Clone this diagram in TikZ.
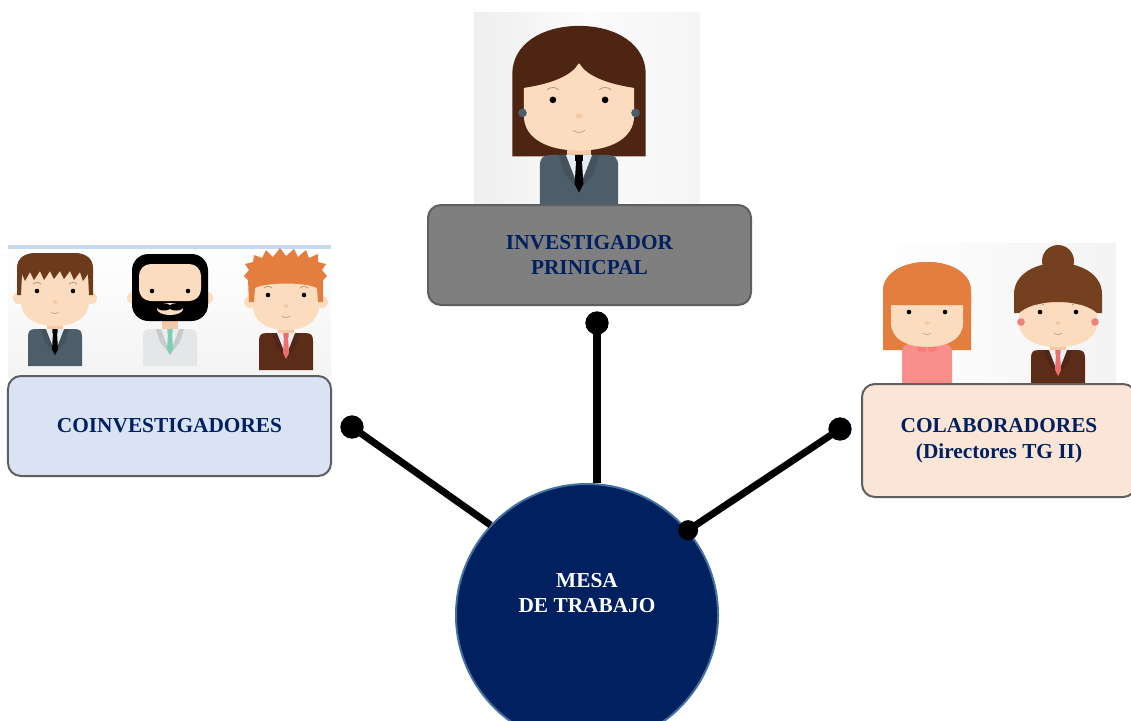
\documentclass[tikz,border=0pt]{standalone}
\usepackage{fontspec}
\setmainfont{Liberation Serif}

\definecolor{skin}{HTML}{FCDCBF}
\definecolor{skinshade}{HTML}{F3C9A8}
\definecolor{navy}{HTML}{002060}
\definecolor{rimblue}{HTML}{41719C}
\definecolor{boxline}{HTML}{5F5F5F}
\definecolor{invgray}{HTML}{7F7F7F}
\definecolor{coinvblue}{HTML}{DAE3F3}
\definecolor{colabpeach}{HTML}{FBE5D6}
\definecolor{stripblue}{HTML}{C6D9F1}
\definecolor{slatesuit}{HTML}{4D5D69}
\definecolor{brownsuit}{HTML}{5B2C17}
\definecolor{shirtwhite}{HTML}{E8EDF1}
\definecolor{shirtgray}{HTML}{E4E6E8}
\definecolor{tiepink}{HTML}{EE6E6E}
\definecolor{tieteal}{HTML}{7FCDB3}
\definecolor{hairbrown}{HTML}{6E3A1C}
\definecolor{hairdark}{HTML}{4E2412}
\definecolor{hairorange}{HTML}{E47E3E}
\definecolor{hairbun}{HTML}{74401F}
\definecolor{blousepink}{HTML}{F98F8B}
\definecolor{earpink}{HTML}{F2807A}

\newcommand\diagfont{\fontsize{18.2}{22}\selectfont\bfseries}

\tikzset{
  box/.style={draw=boxline, line width=1.7pt, rounded corners=11pt, text=navy,
              align=center, font=\diagfont},
  ball/.style={circle, fill=black, inner sep=0pt, minimum size=0.7cm},
  link/.style={line width=6pt},
  brow/.style={draw=skinshade!70!black, line width=0.6pt},
  pics/ears/.style={code={\fill[skin] (-#1,0) circle (6) (#1,0) circle (6);}},
  pics/face/.style={code={
    \fill[skin] (-#1,-32) -- (#1,-32) -- (#1,4) .. controls (#1,20) and ({0.55*#1},28) .. (0,28)
      .. controls ({-0.55*#1},28) and (-#1,20) .. (-#1,4) -- cycle;
    \fill (-18,-7) circle (2.3) (18,-7) circle (2.3);
    \draw[brow] (-22,-14) .. controls (-20,-16) and (-16,-16) .. (-14,-14)
                (14,-14) .. controls (16,-16) and (20,-16) .. (22,-14);
    \fill[skinshade] (0,4) ellipse (2.6 and 1.8);
    \draw[skinshade!80!black, line width=0.6pt] (-4,14) .. controls (-2,16) and (2,16) .. (4,14);
  }},
  pics/suit/.style 2 args={code={
    \fill[skinshade] (-8,20) rectangle (8,34);
    \fill[#1] (-27,68) -- (-27,39) .. controls (-27,33) and (-25,31) .. (-19,31) -- (19,31)
      .. controls (25,31) and (27,33) .. (27,39) -- (27,68) -- cycle;
    \fill[#1!88!black] (-14,31) -- (-9,31) -- (0,56) -- (-10,44) -- cycle
                       (14,31) -- (9,31) -- (0,56) -- (10,44) -- cycle;
    \fill[shirtwhite] (-9,31) -- (9,31) -- (0,54) -- cycle;
    \fill[#2] (-2.6,31) rectangle (2.6,35) (-2,35) -- (2,35) -- (3,51) -- (0,57) -- (-3,51) -- cycle;
  }},
}

\begin{document}
\begin{tikzpicture}[x={(0.03cm,0)}, y={(0,-0.03cm)}]
\clip (0,0) rectangle (1131,720);
\fill[white] (0,0) rectangle (1131,720);

% photo backgrounds
\fill[left color=gray!13, right color=gray!8, middle color=gray!3] (474,12) rectangle (700,205);
\fill[top color=white, bottom color=gray!9] (8,245) rectangle (331,376);
\fill[stripblue] (8,245) rectangle (331,249);
\fill[left color=white, right color=gray!9] (866,243) rectangle (1116,385);

% principal investigator
\begin{scope}[shift={(579,110)}, scale=1.45]
  \fill[hairdark] (-46,32) -- (-46,-25) .. controls (-46,-45) and (-26,-58) .. (0,-58)
    .. controls (26,-58) and (46,-45) .. (46,-25) -- (46,32) -- cycle;
  \pic[transform shape] {suit={slatesuit}{black}};
  \pic[transform shape] {face=38};
  \fill[hairdark] (-40,-15) .. controls (-25,-17) and (-5,-22) .. (0,-33)
    .. controls (5,-22) and (25,-17) .. (40,-15) -- (40,-35)
    .. controls (30,-50) and (-30,-50) .. (-40,-35) -- cycle;
  \fill[slatesuit] (-39,2) circle (3) (39,2) circle (3);
\end{scope}

% coinvestigators
\begin{scope}[shift={(55,298)}]
  \pic {suit={slatesuit}{black}};
  \pic {ears=36};
  \pic {face=34};
  \fill[hairbrown] (-38,-3) -- (-38,-30) .. controls (-38,-40) and (-30,-45) .. (-20,-45) -- (20,-45)
    .. controls (30,-45) and (38,-40) .. (38,-30) -- (38,-3) -- (34,-3) -- (33,-24) -- (28,-17)
    -- (25,-26) -- (19,-18) -- (15,-27) -- (9,-19) -- (5,-27) -- (-1,-19) -- (-5,-27) -- (-11,-18)
    -- (-15,-27) -- (-21,-18) -- (-25,-26) -- (-30,-17) -- (-33,-24) -- (-34,-3) -- cycle;
\end{scope}
\begin{scope}[shift={(170,298)}]
  \pic {suit={shirtgray}{tieteal}};
  \pic {ears=37};
  \fill[black, rounded corners=14pt] (-38,-44) rectangle (38,23);
  \fill[skin, rounded corners=10pt] (-31,-34) rectangle (31,3);
  \fill[skin] (0,11) ellipse (13 and 6);
  \fill (-6,9) ellipse (7 and 3.5) (6,9) ellipse (7 and 3.5);
  \fill (-18,-7) circle (2.3) (18,-7) circle (2.3);
\end{scope}
\begin{scope}[shift={(286,302)}]
  \pic {suit={brownsuit}{tiepink}};
  \pic {ears=36};
  \pic {face=33};
  \fill[hairorange] (-37,0) -- (-38,-22) -- (-42,-26) -- (-37,-32) -- (-41,-38) -- (-33,-40)
    -- (-32,-47) -- (-24,-44) -- (-20,-52) -- (-13,-45) -- (-6,-54) -- (0,-46) -- (8,-53)
    -- (12,-45) -- (20,-52) -- (23,-44) -- (32,-48) -- (32,-40) -- (40,-38) -- (36,-32)
    -- (41,-26) -- (37,-22) -- (37,0) -- (32,0) -- (31,-14) .. controls (20,-20) and (-20,-20) .. (-31,-14)
    -- (-32,0) -- cycle;
\end{scope}

% collaborators
\begin{scope}[shift={(927,319)}]
  \fill[hairorange] (-44,31) -- (-44,-28) .. controls (-44,-46) and (-24,-57) .. (0,-57)
    .. controls (24,-57) and (44,-46) .. (44,-28) -- (44,31) -- cycle;
  \fill[skinshade] (-7,18) rectangle (7,27);
  \fill[blousepink] (-25,68) -- (-25,34) .. controls (-25,27) and (-22,25) .. (-16,25) -- (16,25)
    .. controls (22,25) and (25,27) .. (25,34) -- (25,68) -- cycle;
  \fill[blousepink!85!red] (-11,24) -- (0,27) -- (-2,33) -- (-9,32) -- cycle
                           (11,24) -- (0,27) -- (2,33) -- (9,32) -- cycle;
  \pic {face=36};
  \fill[hairorange] (-44,-14) -- (-44,-28) .. controls (-44,-46) and (-24,-57) .. (0,-57)
    .. controls (24,-57) and (44,-46) .. (44,-28) -- (44,-14) -- cycle;
\end{scope}
\begin{scope}[shift={(1058,319)}]
  \fill[hairbun] (0,-58) circle (16);
  \pic {suit={brownsuit}{tiepink}};
  \pic {face=39};
  \fill[hairbun] (-44,-6) -- (-44,-25) .. controls (-44,-44) and (-24,-56) .. (0,-56)
    .. controls (24,-56) and (44,-44) .. (44,-25) -- (44,-6) -- (39,-6)
    .. controls (30,-14) and (15,-17) .. (0,-17) .. controls (-15,-17) and (-30,-14) .. (-39,-6) -- cycle;
  \fill[earpink] (-37,3) circle (3.8) (37,3) circle (3.8);
\end{scope}

% boxes
\node[box, fill=invgray, minimum width=9.69cm, minimum height=3cm] (inv) at (589.5,255) {INVESTIGADOR\\PRINICPAL};
\node[box, fill=coinvblue, minimum width=9.69cm, minimum height=3cm] (coinv) at (169.5,426) {COINVESTIGADORES};
\node[box, fill=colabpeach, minimum width=8.22cm, minimum height=3.39cm] (colab) at (999,440.5) {COLABORADORES\\(Directores TG II)};

% centre and its links
\node[circle, fill=navy, draw=rimblue, line width=1.7pt, minimum size=7.86cm, inner sep=0pt] (mesa) at (587,615) {};
\node[ball] (ballT) at (597,323) {};
\node[ball] (ballL) at (352,427) {};
\node[ball] (ballR) at (840,429) {};
\draw[link] (ballT.center) -- (ballT |- mesa.north);
\draw[link] (ballL.center) -- (mesa.137);
\draw[link] (ballR.center) -- (mesa.40);
\node[ball, minimum size=0.6cm] (ballRin) at (mesa.40) {};
\node[text=white, align=center, font=\diagfont] (mesalabel) at (587,593) {MESA\\DE TRABAJO};
\end{tikzpicture}
\end{document}
